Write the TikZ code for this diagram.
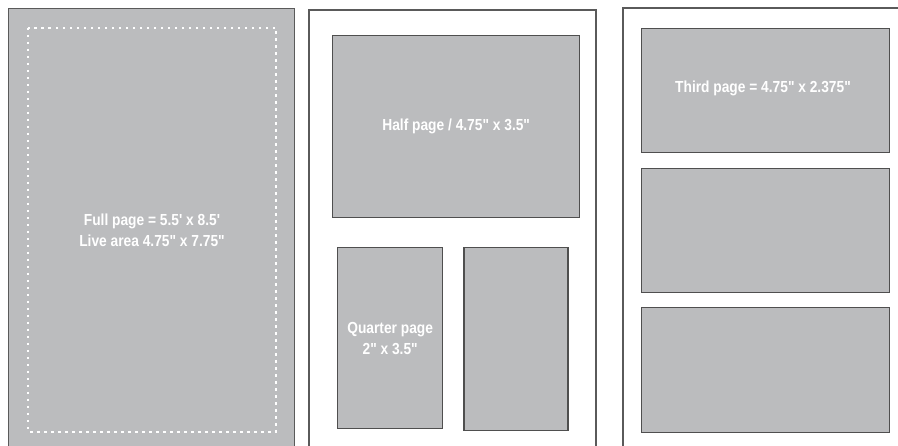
\documentclass[tikz,border=0pt]{standalone}
\usepackage{fontspec}
\newfontfamily\adfont[FakeStretch=0.86]{Liberation Sans}
\usetikzlibrary{positioning}
\definecolor{adgray}{HTML}{BBBCBE}
\definecolor{edgegray}{HTML}{4F4F4F}
\definecolor{pagegray}{HTML}{5A5A5A}

\begin{document}
\begin{tikzpicture}[
  x=1pt, y=-1pt,
  every node/.style={text=white, align=center, font=\adfont\bfseries\fontsize{16}{21}\selectfont},
  adbox/.style={fill=adgray, draw=edgegray, line width=1.4pt, inner sep=0pt, anchor=north west},
  pageframe/.style={draw=pagegray, line width=1.2pt},
]

% Canvas
\useasboundingbox (0,0) rectangle (898,446);
\clip (0,0) rectangle (898,446);
\fill[white] (0,0) rectangle (898,446);

% Page outlines
\draw[pageframe] (309,460) -- (309,10) -- (596,10) -- (596,460);
\draw[pageframe] (623,460) -- (623,8) -- (910,8);

% Full page
\node[adbox, draw=pagegray, line width=1.2pt, minimum width=286pt, minimum height=460pt] (full) at (8,8) {};
\draw[white, line width=1.2pt, dash pattern=on 2.5pt off 4.5pt] (28,28) rectangle (276,432);
\node (fulltxt) at (152,230) {Full page = 5.5' x 8.5'\\Live area 4.75" x 7.75"};

% Half page
\node[adbox, minimum width=247pt, minimum height=182pt] (half) at (332,35) {Half page / 4.75" x 3.5"};

% Quarter pages
\node[adbox, minimum width=105pt, minimum height=181pt] (quarter1) at (337,247) {Quarter page\\2" x 3.5"};
\node[adbox, minimum width=104pt, minimum height=183pt, right=20pt of quarter1.north east, anchor=north west] (quarter2) {};

% Third pages
\node[adbox, minimum width=248pt, minimum height=124pt] (third1) at (641,28) {};
\node (thirdtxt) at (763,88) {Third page = 4.75" x 2.375"};
\node[adbox, minimum width=248pt, minimum height=124pt] (third2) at (641,168) {};
\node[adbox, minimum width=248pt, minimum height=125pt] (third3) at (641,307) {};

\end{tikzpicture}
\end{document}
